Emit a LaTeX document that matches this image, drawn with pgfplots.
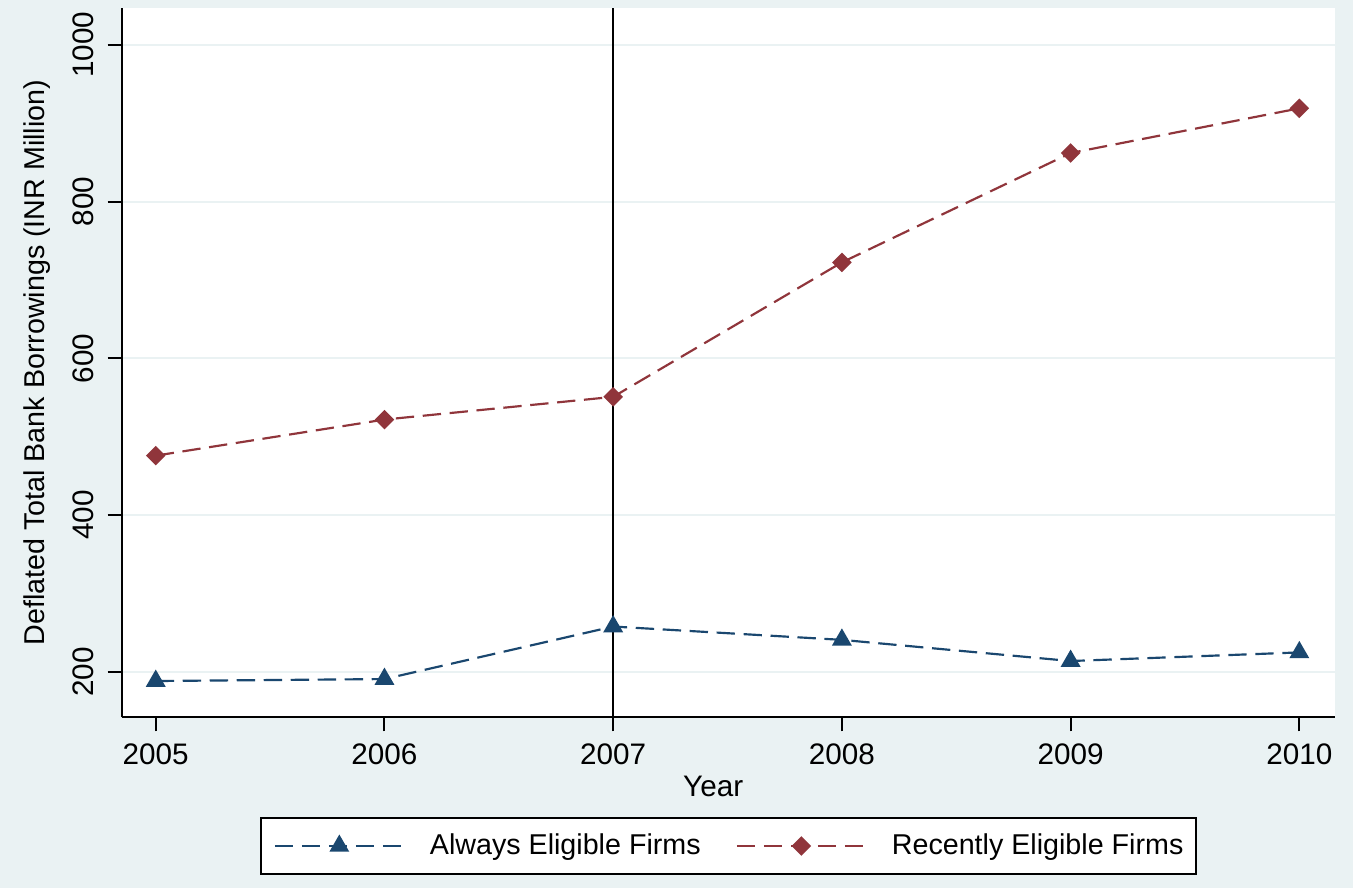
\documentclass[border=0pt]{standalone}
\usepackage{fontspec}
\setmainfont{Liberation Sans}
\usepackage{pgfplots}
\pgfplotsset{compat=1.18}
\definecolor{bgc}{HTML}{EAF2F3}
\definecolor{sblue}{HTML}{1A476F}
\definecolor{sred}{HTML}{90353B}
\begin{document}
\fontsize{8.9}{10.5}\selectfont
\begin{tikzpicture}
\path[use as bounding box, fill=bgc] (0,0) rectangle (405.9pt,266.4pt);
\begin{axis}[
  at={(36.5pt,51.2pt)}, anchor=south west,
  scale only axis, width=364pt, height=212.8pt,
  xmin=2004.851, xmax=2010.156, ymin=142.2, ymax=1047,
  axis x line*=bottom, axis y line*=left,
  axis line style={-, line width=0.6pt, black},
  axis background/.style={fill=white},
  xtick={2005,2006,2007,2008,2009,2010},
  ytick={200,400,600,800,1000},
  tick align=outside, major tick length=4.2pt,
  tick style={line width=0.6pt, black},
  /pgf/number format/1000 sep={},
  /pgf/number format/assume math mode=true,
  ymajorgrids, major grid style={bgc, line width=0.6pt},
  ticklabel style={font=\fontsize{8.9}{10}\selectfont},
  xticklabel style={anchor=north, inner sep=0pt},
  xticklabel shift=3.4pt,
  yticklabel style={rotate=90, anchor=south, inner sep=0pt},
  yticklabel shift=3.9pt,
  xlabel={Year},
  xlabel style={at={(axis description cs:0.4875,-0.0813)}, anchor=north, inner sep=0pt, font=\fontsize{8.9}{10}\selectfont},
  ylabel={Deflated Total Bank Borrowings (INR Million)},
  ylabel style={at={(axis description cs:-0.0695,0.5)}, anchor=center, inner sep=0pt, font=\fontsize{8.6}{10}\selectfont},
  legend columns=2,
  legend style={at={(0.1138,-0.1406)}, anchor=north west, draw=black, line width=0.6pt, fill=white,
    inner xsep=3.9pt, inner ysep=4.6pt, font=\fontsize{8.6}{10}\selectfont,
    nodes={inner sep=0pt},
    /tikz/every odd column/.append style={column sep=7.5pt},
    /tikz/every even column/.append style={column sep=10.5pt}},
  legend image code/.code={\draw[mark repeat=2, mark phase=2, #1] plot coordinates {(0pt,0pt)(19.35pt,0pt)(38.7pt,0pt)};},
]
\addplot[sblue, line width=0.65pt, dash pattern=on 5.5pt off 2.6pt, mark=triangle*, mark size=2.8pt, mark options={solid}]
  coordinates {(2005,188.5)(2006,191)(2007,258)(2008,241)(2009,214)(2010,225)};
\addlegendentry{Always Eligible Firms}
\addplot[sred, line width=0.65pt, dash pattern=on 5.5pt off 2.6pt, mark=square*, mark size=1.75pt, mark options={solid, rotate=45}]
  coordinates {(2005,476)(2006,522)(2007,551)(2008,722.5)(2009,862)(2010,919)};
\addlegendentry{Recently Eligible Firms}
\draw[black, line width=0.6pt] (axis cs:2007,142.2) -- (axis cs:2007,1047);
\end{axis}
\end{tikzpicture}
\end{document}
